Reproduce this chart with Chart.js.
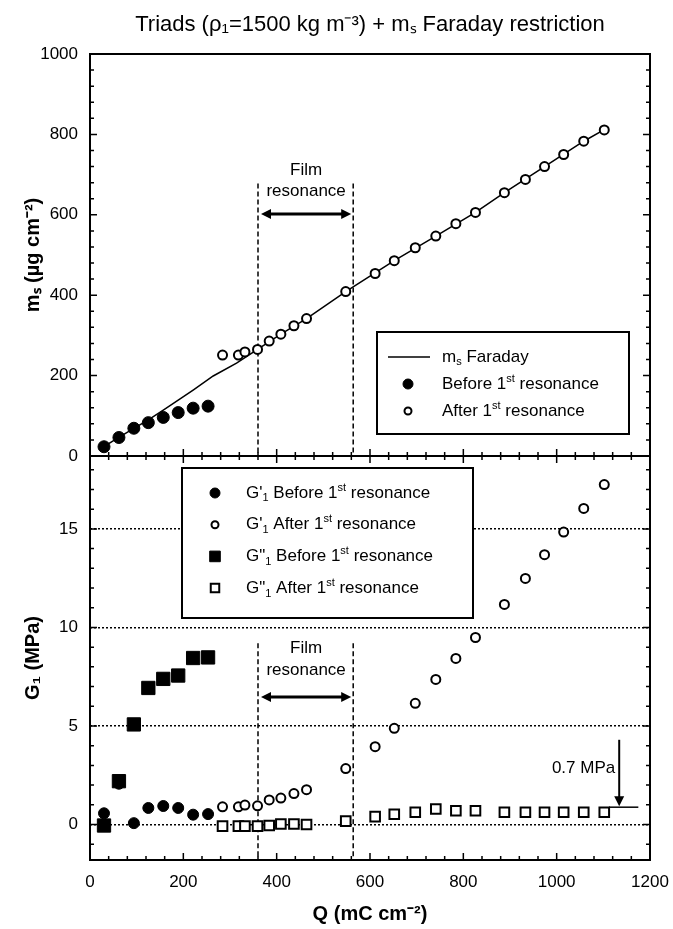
<!DOCTYPE html>
<html>
<head>
<meta charset="utf-8">
<script src="https://cdn.jsdelivr.net/npm/chart.js@4.4.1/dist/chart.umd.min.js"></script>
<style>
  body { margin: 0; background: #fff; }
  #wrap { position: relative; width: 673px; height: 929px; }
  canvas { position: absolute; left: 0; }
</style>
</head>
<body>
<div id="wrap">
  <canvas id="top" width="673" height="470" style="top:0"></canvas>
  <canvas id="bottom" width="673" height="483" style="top:446px"></canvas>
</div>
<script>
// charge density Q (mC cm-2)
const qBefore = [30, 62, 94, 125, 157, 189, 221, 253]
const qAfter = [284, 318, 332, 359, 384, 409, 437, 464, 548, 611, 652, 697, 741, 784, 826, 888, 933, 974, 1015, 1058, 1102]

// top panel, m_s (ug cm-2)
const msBefore = [23, 46, 69, 83, 96, 108, 119, 124]
const msAfter = [251, 251, 259, 265, 286, 303, 324, 342, 409, 454, 486, 518, 547, 578, 606, 655, 688, 720, 750, 783, 811]
const qFaraday = [28, 60, 93, 125, 157, 189, 221, 264, 314, 359, 409, 464, 548, 652, 741, 826, 888, 974, 1058, 1102]
const msFaraday = [22, 45, 68, 90, 114, 139, 164, 199, 231, 265, 303, 342, 409, 486, 547, 606, 655, 720, 783, 812]

// bottom panel, G1 (MPa)
const g1Before = [0.57, 2.07, 0.07, 0.84, 0.94, 0.84, 0.50, 0.53]
const g1After = [0.90, 0.90, 0.99, 0.95, 1.25, 1.34, 1.57, 1.77, 2.84, 3.95, 4.88, 6.15, 7.36, 8.43, 9.49, 11.17, 12.49, 13.69, 14.84, 16.04, 17.25]
const g2Before = [-0.05, 2.2, 5.08, 6.93, 7.39, 7.56, 8.45, 8.48]
const g2After = [-0.08, -0.08, -0.08, -0.08, -0.05, 0.03, 0.03, 0.0, 0.17, 0.40, 0.52, 0.62, 0.79, 0.70, 0.70, 0.62, 0.62, 0.62, 0.62, 0.62, 0.62]

// tick labels
const qTicks = [0, 200, 400, 600, 800, 1000, 1200]
const msTicks = [0, 200, 400, 600, 800, 1000]
const gTicks = [0, 5, 10, 15]

// notes
const filmEdges = [360, 564]
const filmText = ['Film', 'resonance']
const plateauText = '0.7 MPa'

const FONT = '"Liberation Sans", Arial, Helvetica, sans-serif'
Chart.defaults.font.family = FONT
Chart.defaults.color = '#000'

const pairs = (xs, ys) => xs.map((x, i) => ({x: x, y: ys[i]}))

// draw text with unicode sub/superscripts as real small raised/lowered runs
const SUB = {'₁': '1', 'ₛ': 's'}
const SUP = {'⁻': '-', '²': '2', '³': '3', 'ˢ': 's', 'ᵗ': 't'}
function richText(ctx, str, x, y, size, align) {
    let runs = []
    for (const ch of str) {
        const mode = SUB[ch] ? 'sub' : (SUP[ch] ? 'sup' : 'n')
        const c = SUB[ch] || SUP[ch] || ch
        const last = runs[runs.length - 1]
        if (last && last.mode == mode) last.text += c
        else runs.push({mode: mode, text: c})
    }
    const fontFor = m => (m == 'n' ? size : Math.round(size * 0.62)) + 'px ' + FONT
    let total = 0
    runs.forEach(r => { ctx.font = fontFor(r.mode); r.w = ctx.measureText(r.text).width; total += r.w })
    let cx = align == 'center' ? x - total / 2 : (align == 'right' ? x - total : x)
    ctx.textAlign = 'left'
    ctx.textBaseline = 'middle'
    runs.forEach(r => {
        ctx.font = fontFor(r.mode)
        const dy = r.mode == 'sub' ? size * 0.32 : (r.mode == 'sup' ? -size * 0.32 : 0)
        ctx.fillText(r.text, cx, y + dy)
        cx += r.w
    })
}

function arrowHead(ctx, x, y, dx, dy) {
    // tip at x,y pointing along (dx,dy)
    const len = 10, half = 5
    ctx.beginPath()
    ctx.moveTo(x, y)
    ctx.lineTo(x - dx * len - dy * half, y - dy * len + dx * half)
    ctx.lineTo(x - dx * len + dy * half, y - dy * len - dx * half)
    ctx.closePath()
    ctx.fill()
}

// keep chart areas fixed: no automatic room for tick labels
function noScalePadding(s) {
    s.paddingTop = 0
    s.paddingBottom = 0
    s.paddingLeft = 0
    s.paddingRight = 0
}

const framePlugin = {
    id: 'frame',
    afterDraw(chart, args, o) {
        const {ctx, chartArea: a, scales: {x, y}} = chart
        ctx.save()
        ctx.strokeStyle = '#000'
        ctx.lineWidth = 2
        ctx.strokeRect(a.left, a.top, a.right - a.left, a.bottom - a.top)
        ctx.lineWidth = 1.5
        ctx.beginPath()
        const marks = (scale, step, major, cb) => {
            for (let i = Math.ceil(scale.min / step); i * step <= scale.max + 1e-6; i++) {
                const v = i * step
                const len = Math.abs(v / major - Math.round(v / major)) < 1e-6 ? 7 : 4
                cb(scale.getPixelForValue(v), len)
            }
        }
        marks(y, o.yStep, o.yMajor, (p, len) => {
            ctx.moveTo(a.left, p); ctx.lineTo(a.left + len, p)
            ctx.moveTo(a.right, p); ctx.lineTo(a.right - len, p)
        })
        marks(x, 40, 200, (p, len) => {
            ctx.moveTo(p, a.bottom); ctx.lineTo(p, a.bottom - len)
            if (o.topTicks) { ctx.moveTo(p, a.top); ctx.lineTo(p, a.top + len) }
        })
        ctx.stroke()
        ctx.restore()
    }
}

const notesPlugin = {
    id: 'notes',
    beforeDatasetsDraw(chart, args, o) {
        const {ctx, chartArea: a, scales: {x, y}} = chart
        ctx.save()
        ctx.strokeStyle = '#000'
        ctx.fillStyle = '#000'
        ctx.lineWidth = 1.5
        ctx.setLineDash([5, 3])
        const yTop = y.getPixelForValue(o.filmTop)
        filmEdges.forEach(q => {
            const px = x.getPixelForValue(q)
            ctx.beginPath(); ctx.moveTo(px, yTop); ctx.lineTo(px, a.bottom); ctx.stroke()
        })
        ctx.setLineDash([])
        const x1 = x.getPixelForValue(filmEdges[0]) + 3
        const x2 = x.getPixelForValue(filmEdges[1]) - 2
        const ay = y.getPixelForValue(o.arrowY)
        ctx.lineWidth = 3
        ctx.beginPath(); ctx.moveTo(x1 + 6, ay); ctx.lineTo(x2 - 6, ay); ctx.stroke()
        arrowHead(ctx, x1, ay, -1, 0)
        arrowHead(ctx, x2, ay, 1, 0)
        const xc = (x1 + x2) / 2
        richText(ctx, filmText[0], xc, y.getPixelForValue(o.filmLabels[0]), 17, 'center')
        richText(ctx, filmText[1], xc, y.getPixelForValue(o.filmLabels[1]), 17, 'center')

        if (o.plateau) {
            const p = o.plateau
            const lx = x.getPixelForValue(p.arrowX)
            const ly = y.getPixelForValue(p.level)
            ctx.lineWidth = 1.5
            ctx.beginPath()
            ctx.moveTo(x.getPixelForValue(p.from), ly); ctx.lineTo(x.getPixelForValue(p.to), ly)
            ctx.stroke()
            ctx.lineWidth = 2
            ctx.beginPath(); ctx.moveTo(lx, y.getPixelForValue(p.arrowTop)); ctx.lineTo(lx, ly - 8); ctx.stroke()
            arrowHead(ctx, lx, ly - 1, 0, 1)
            richText(ctx, plateauText, lx - 4, y.getPixelForValue(p.textY), 17, 'right')
        }
        ctx.restore()
    }
}

const boxLegend = {
    id: 'boxLegend',
    afterDatasetsDraw(chart, args, o) {
        const ctx = chart.ctx
        ctx.save()
        ctx.fillStyle = '#fff'
        ctx.fillRect(o.x, o.y, o.w, o.h)
        ctx.strokeStyle = '#000'
        ctx.lineWidth = 2
        ctx.strokeRect(o.x, o.y, o.w, o.h)
        o.items.forEach((it, i) => {
            const ds = chart.data.datasets[it.index]
            const cy = o.y + o.first + i * o.gap
            if (ds.showLine) {
                ctx.strokeStyle = ds.borderColor
                ctx.lineWidth = ds.borderWidth
                ctx.beginPath(); ctx.moveTo(o.lineFrom, cy); ctx.lineTo(o.lineTo, cy); ctx.stroke()
            } else {
                ctx.fillStyle = ds.pointBackgroundColor
                ctx.strokeStyle = ds.pointBorderColor
                ctx.lineWidth = ds.pointBorderWidth
                Chart.helpers.drawPoint(ctx, {pointStyle: ds.pointStyle, radius: it.radius, borderWidth: ds.pointBorderWidth, rotation: 0}, o.markX, cy)
            }
            ctx.fillStyle = '#000'
            richText(ctx, ds.label, o.textX, cy, 17, 'left')
        })
        ctx.restore()
    }
}

const tickFont = {size: 17}
const titleFont = {size: 20, weight: 'bold'}
const plainNumber = v => String(v)

new Chart(document.getElementById('top'), {
    type: 'scatter',
    data: {
        datasets: [{
            label: 'mₛ Faraday',
            data: pairs(qFaraday, msFaraday),
            showLine: true,
            borderColor: '#000',
            borderWidth: 1.5,
            pointRadius: 0,
            order: 3
        }, {
            label: 'Before 1ˢᵗ resonance',
            data: pairs(qBefore, msBefore),
            pointStyle: 'circle',
            pointRadius: 6,
            pointBackgroundColor: '#000',
            pointBorderColor: '#000',
            pointBorderWidth: 1,
            order: 2
        }, {
            label: 'After 1ˢᵗ resonance',
            data: pairs(qAfter, msAfter),
            pointStyle: 'circle',
            pointRadius: 4.5,
            pointBackgroundColor: '#fff',
            pointBorderColor: '#000',
            pointBorderWidth: 2,
            order: 1
        }]
    },
    options: {
        responsive: false,
        animation: false,
        events: [],
        layout: {autoPadding: false, padding: {left: 0, right: 23, top: 0, bottom: 14}},
        scales: {
            x: {type: 'linear', display: false, min: 0, max: 1200},
            y: {
                min: 0, max: 1000,
                afterBuildTicks: s => { s.ticks = msTicks.map(v => ({value: v})) },
                afterFit: s => { s.width = 90; noScalePadding(s) },
                grid: {display: false, drawTicks: false},
                border: {display: false},
                ticks: {font: tickFont, padding: 12, callback: plainNumber},
                title: {display: true, text: 'mₛ (µg cm⁻²)', font: titleFont, padding: {top: 21, bottom: 0}}
            }
        },
        plugins: {
            legend: {display: false},
            tooltip: {enabled: false},
            title: {
                display: true,
                fullSize: false,
                text: 'Triads (ρ₁=1500 kg m⁻³) + mₛ Faraday restriction',
                font: {size: 22, weight: 'normal'},
                padding: {top: 12, bottom: 15.6}
            },
            frame: {yStep: 40, yMajor: 200, topTicks: false},
            notes: {filmTop: 678, filmLabels: [711, 659], arrowY: 602},
            boxLegend: {
                x: 377, y: 332, w: 252, h: 102, first: 25, gap: 27,
                lineFrom: 388, lineTo: 430, markX: 408, textX: 442,
                items: [{index: 0}, {index: 1, radius: 5}, {index: 2, radius: 3.5}]
            }
        }
    },
    plugins: [framePlugin, notesPlugin, boxLegend]
})

new Chart(document.getElementById('bottom'), {
    type: 'scatter',
    data: {
        datasets: [{
            label: 'G\'₁ Before 1ˢᵗ resonance',
            data: pairs(qBefore, g1Before),
            pointStyle: 'circle',
            pointRadius: 5.5,
            pointBackgroundColor: '#000',
            pointBorderColor: '#000',
            pointBorderWidth: 1
        }, {
            label: 'G\'₁ After 1ˢᵗ resonance',
            data: pairs(qAfter, g1After),
            pointStyle: 'circle',
            pointRadius: 4.5,
            pointBackgroundColor: '#fff',
            pointBorderColor: '#000',
            pointBorderWidth: 2
        }, {
            label: 'G"₁ Before 1ˢᵗ resonance',
            data: pairs(qBefore, g2Before),
            pointStyle: 'rect',
            pointRadius: 9.4,
            pointBackgroundColor: '#000',
            pointBorderColor: '#000',
            pointBorderWidth: 1
        }, {
            label: 'G"₁ After 1ˢᵗ resonance',
            data: pairs(qAfter, g2After),
            pointStyle: 'rect',
            pointRadius: 6.8,
            pointBackgroundColor: '#fff',
            pointBorderColor: '#000',
            pointBorderWidth: 2
        }]
    },
    options: {
        responsive: false,
        animation: false,
        events: [],
        layout: {autoPadding: false, padding: {left: 0, right: 23, top: 10, bottom: 0}},
        scales: {
            x: {
                type: 'linear', min: 0, max: 1200,
                afterBuildTicks: s => { s.ticks = qTicks.map(v => ({value: v})) },
                afterFit: s => { s.height = 69; noScalePadding(s) },
                grid: {display: false, drawTicks: false},
                border: {display: false},
                ticks: {font: tickFont, padding: 12, maxRotation: 0, callback: plainNumber},
                title: {display: true, text: 'Q (mC cm⁻²)', font: titleFont, padding: {top: 0, bottom: 3}}
            },
            y: {
                min: -1.8, max: 18.7,
                afterBuildTicks: s => { s.ticks = gTicks.map(v => ({value: v})) },
                afterFit: s => { s.width = 90; noScalePadding(s) },
                grid: {display: true, drawTicks: false, color: '#000', lineWidth: 1.5},
                border: {display: false, dash: [2, 2]},
                ticks: {font: tickFont, padding: 12, callback: plainNumber},
                title: {display: true, text: 'G₁ (MPa)', font: titleFont, padding: {top: 21, bottom: 0}}
            }
        },
        plugins: {
            legend: {display: false},
            tooltip: {enabled: false},
            frame: {yStep: 1, yMajor: 5, topTicks: true},
            notes: {
                filmTop: 9.2, filmLabels: [8.93, 7.83], arrowY: 6.47,
                plateau: {from: 1112, to: 1175, level: 0.88, arrowX: 1134, arrowTop: 4.3, textY: 2.84}
            },
            boxLegend: {
                x: 182, y: 22, w: 291, h: 150, first: 25, gap: 31.7,
                markX: 215, textX: 246,
                items: [{index: 0, radius: 5}, {index: 1, radius: 3.5}, {index: 2, radius: 7.5}, {index: 3, radius: 6}]
            }
        }
    },
    plugins: [framePlugin, notesPlugin, boxLegend]
})
</script>
</body>
</html>
